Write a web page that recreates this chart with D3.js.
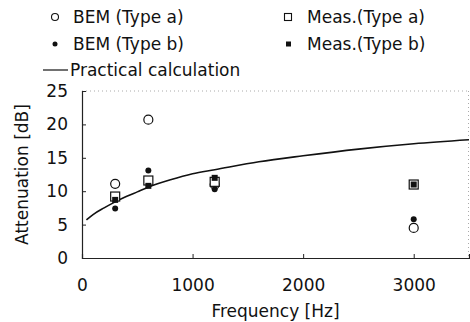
<!DOCTYPE html>
<html>
<head>
<meta charset="utf-8">
<script src="https://cdn.jsdelivr.net/npm/d3@7"></script>
<style>
  body { margin: 0; background: #fff; }
  text { font-family: "DejaVu Sans", Verdana, sans-serif; fill: #111; }
</style>
</head>
<body>
<script>
// 데이터
const freqs = [300, 600, 1200, 3000];
const bemA = [11.1, 20.7, 11.0, 4.5];
const bemB = [7.4, 13.1, 10.3, 5.8];
const measA = [9.2, 11.6, 11.4, 11.0];
const measB = [8.7, 10.8, 12.0, 11.0];

const calcFreq = [40, 100, 200, 300, 400, 500, 600, 800, 1000, 1200, 1600, 2000, 2500, 3000, 3500];
const calcVal = [5.7, 6.5, 7.5, 8.4, 9.2, 9.9, 10.6, 11.7, 12.6, 13.2, 14.4, 15.3, 16.3, 17.1, 17.7];

const xTicks = [0, 1000, 2000, 3000];
const yTicks = [0, 5, 10, 15, 20, 25];

function renderSVG() {
    const width = 470, height = 322;
    const margin = {top: 91, right: 1, bottom: 64, left: 82};
    const fontSize = '17px';

    const scaleX = d3.scaleLinear()
        .domain([0, 3500])
        .range([margin.left, width - margin.right]);
    const scaleY = d3.scaleLinear()
        .domain([0, 25])
        .range([height - margin.bottom, margin.top]);

    const svg = d3.select('body').append('svg')
        .attr('width', width)
        .attr('height', height);

    // 점선 테두리 (위, 오른쪽)
    svg.append('line')
        .attr('x1', scaleX(0)).attr('x2', scaleX(3500))
        .attr('y1', scaleY(25)).attr('y2', scaleY(25))
        .attr('stroke', '#aaa').attr('stroke-dasharray', '1,3');
    svg.append('line')
        .attr('x1', scaleX(3500) - 0.5).attr('x2', scaleX(3500) - 0.5)
        .attr('y1', scaleY(25)).attr('y2', scaleY(0))
        .attr('stroke', '#aaa').attr('stroke-dasharray', '1,3');

    // 축
    const xAxis = d3.axisBottom(scaleX).tickValues(xTicks).tickSize(-4).tickPadding(21).tickFormat(d3.format('d'));
    const yAxis = d3.axisLeft(scaleY).tickValues(yTicks).tickSize(-4).tickPadding(14);

    const gx = svg.append('g')
        .attr('transform', `translate(0, ${scaleY(0)})`)
        .call(xAxis);
    const gy = svg.append('g')
        .attr('transform', `translate(${scaleX(0)}, 0)`)
        .call(yAxis);

    [gx, gy].forEach(g => {
        g.select('.domain').attr('stroke', '#222').attr('stroke-width', 1.2);
        g.selectAll('.tick line').attr('stroke', '#222');
        g.selectAll('.tick text')
            .attr('font-size', fontSize)
            .attr('font-family', '"DejaVu Sans", Verdana, sans-serif')
            .attr('fill', '#111');
    });
    gx.select('.tick line').remove();

    // 축 제목
    svg.append('text')
        .attr('x', (scaleX(0) + scaleX(3500)) / 2)
        .attr('y', 317)
        .attr('text-anchor', 'middle')
        .attr('font-size', fontSize)
        .text('Frequency [Hz]');
    svg.append('text')
        .attr('transform', `translate(28, ${(scaleY(0) + scaleY(25)) / 2}) rotate(-90)`)
        .attr('text-anchor', 'middle')
        .attr('font-size', fontSize)
        .text('Attenuation [dB]');

    // 계산 곡선
    const line = d3.line()
        .x((d, i) => scaleX(calcFreq[i]))
        .y(d => scaleY(d))
        .curve(d3.curveMonotoneX);
    svg.append('path')
        .datum(calcVal)
        .attr('d', line)
        .attr('fill', 'none')
        .attr('stroke', '#111')
        .attr('stroke-width', 1.6);

    // 마커
    const pts = (vals) => vals.map((v, i) => ({x: freqs[i], y: v}));

    svg.selectAll('circle.bemA').data(pts(bemA)).enter()
        .append('circle').attr('class', 'bemA')
        .attr('cx', d => scaleX(d.x)).attr('cy', d => scaleY(d.y))
        .attr('r', 4.5).attr('fill', '#fff').attr('stroke', '#111').attr('stroke-width', 1.2);

    svg.selectAll('rect.measA').data(pts(measA)).enter()
        .append('rect').attr('class', 'measA')
        .attr('x', d => scaleX(d.x) - 4.5).attr('y', d => scaleY(d.y) - 4.5)
        .attr('width', 9).attr('height', 9)
        .attr('fill', '#fff').attr('stroke', '#111').attr('stroke-width', 1.2);

    svg.selectAll('rect.measB').data(pts(measB)).enter()
        .append('rect').attr('class', 'measB')
        .attr('x', d => scaleX(d.x) - 3).attr('y', d => scaleY(d.y) - 3)
        .attr('width', 6).attr('height', 6)
        .attr('fill', '#111');

    svg.selectAll('circle.bemB').data(pts(bemB)).enter()
        .append('circle').attr('class', 'bemB')
        .attr('cx', d => scaleX(d.x)).attr('cy', d => scaleY(d.y))
        .attr('r', 3).attr('fill', '#111');

    // 범례
    const rows = [17, 44, 70];
    const leg = svg.append('g');
    leg.append('circle').attr('cx', 55).attr('cy', rows[0]).attr('r', 3.5)
        .attr('fill', '#fff').attr('stroke', '#111').attr('stroke-width', 1.1);
    leg.append('circle').attr('cx', 55).attr('cy', rows[1]).attr('r', 2.5).attr('fill', '#111');
    leg.append('line').attr('x1', 43).attr('x2', 68).attr('y1', rows[2]).attr('y2', rows[2])
        .attr('stroke', '#111').attr('stroke-width', 1.2);
    leg.append('rect').attr('x', 284.5).attr('y', rows[0] - 3.5).attr('width', 7).attr('height', 7)
        .attr('fill', '#fff').attr('stroke', '#111').attr('stroke-width', 1.1);
    leg.append('rect').attr('x', 286).attr('y', rows[1] - 2.5).attr('width', 5).attr('height', 5)
        .attr('fill', '#111');

    const legText = [
        {t: 'BEM (Type a)', x: 73, y: rows[0]},
        {t: 'BEM (Type b)', x: 73, y: rows[1]},
        {t: 'Practical calculation', x: 70, y: rows[2]},
        {t: 'Meas.(Type a)', x: 307, y: rows[0]},
        {t: 'Meas.(Type b)', x: 307, y: rows[1]}
    ];
    leg.selectAll('text').data(legText).enter()
        .append('text')
        .attr('x', d => d.x).attr('y', d => d.y)
        .attr('dy', '0.35em')
        .attr('font-size', fontSize)
        .text(d => d.t);
}

window.addEventListener('load', function() {
    requestAnimationFrame(renderSVG);
});
</script>
</body>
</html>
